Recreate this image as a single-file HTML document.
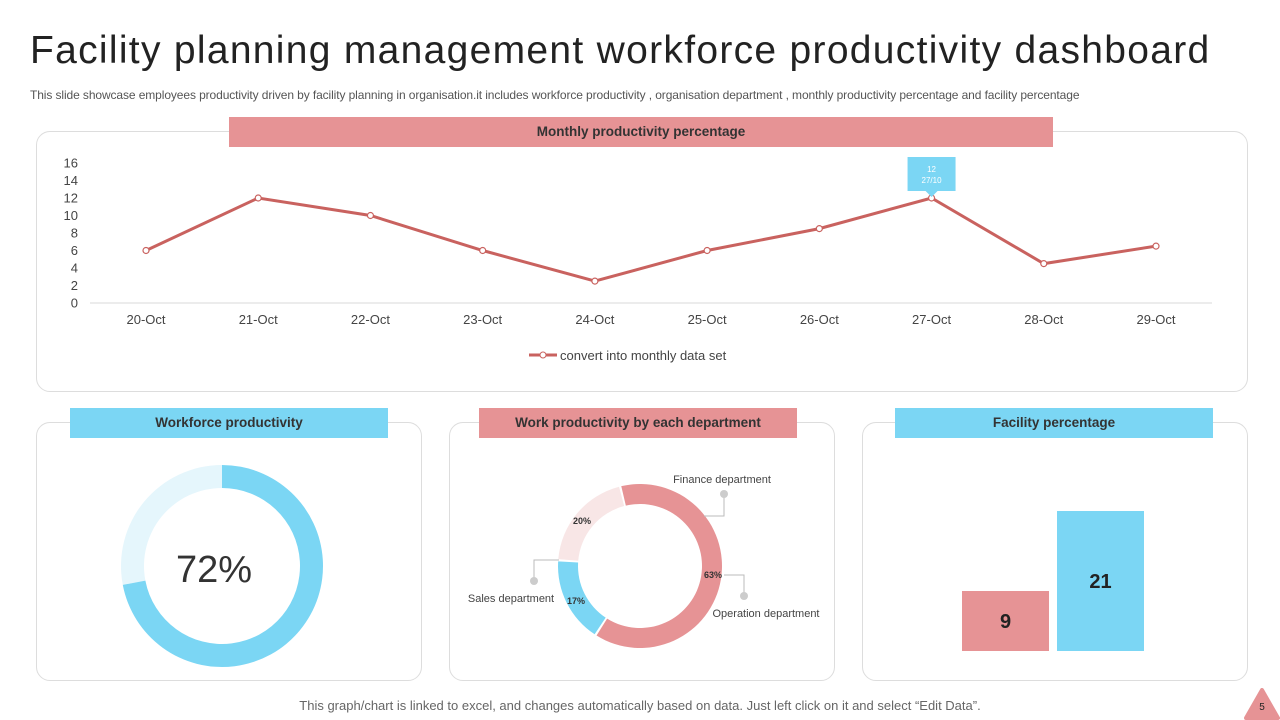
<!DOCTYPE html>
<html><head><meta charset="utf-8"><style>
body{margin:0;width:1280px;height:720px;background:#fff;font-family:"Liberation Sans",sans-serif;position:relative;overflow:hidden;color:#333}
.abs{position:absolute}
.card{position:absolute;border:1px solid #ddd;border-radius:14px;background:#fff}
.hdr{position:absolute;height:30px;line-height:30px;text-align:center;font-weight:bold;font-size:13.5px;color:#333}
.red{background:#e69395}.blue{background:#7bd6f4}
</style></head><body>
<div class="abs" style="left:30px;top:29px;font-size:39px;letter-spacing:1.3px;color:#222">Facility planning management workforce productivity dashboard</div>
<div class="abs" style="left:30px;top:88px;font-size:12px;letter-spacing:-0.1px;color:#555">This slide showcase employees productivity driven by facility planning in organisation.it includes workforce productivity , organisation department , monthly productivity percentage and facility percentage</div>

<div class="card" style="left:36px;top:131px;width:1210px;height:259px"></div>
<div class="hdr red" style="left:229px;top:117px;width:824px">Monthly productivity percentage</div>
<svg class="abs" id="line" style="left:0;top:0" width="1280" height="400"></svg>

<div class="card" style="left:36px;top:422px;width:384px;height:257px"></div>
<div class="hdr blue" style="left:70px;top:408px;width:318px">Workforce productivity</div>
<div class="card" style="left:449px;top:422px;width:384px;height:257px"></div>
<div class="hdr red" style="left:479px;top:408px;width:318px">Work productivity by each department</div>
<div class="card" style="left:862px;top:422px;width:384px;height:257px"></div>
<div class="hdr blue" style="left:895px;top:408px;width:318px">Facility percentage</div>
<svg class="abs" id="bottom" style="left:0;top:400px" width="1280" height="300"></svg>

<div class="abs" style="left:0;width:1280px;text-align:center;top:698px;font-size:13px;color:#666">This graph/chart is linked to excel, and changes automatically based on data. Just left click on it and select “Edit Data”.</div>
<svg class="abs" style="left:1244px;top:688px" width="36" height="32"><path d="M18 2 L34 30 L2 30 Z" fill="#e69395" stroke="#e69395" stroke-width="4" stroke-linejoin="round"/><text x="18" y="22" text-anchor="middle" font-size="10" fill="#222" font-family="Liberation Sans">5</text></svg>

<script>
const categories=["20-Oct","21-Oct","22-Oct","23-Oct","24-Oct","25-Oct","26-Oct","27-Oct","28-Oct","29-Oct"];
const values=[6,12,10,6,2.5,6,8.5,12,4.5,6.5];
const yTicks=[0,2,4,6,8,10,12,14,16];
const workforceValue=72;
const deptLabels=["Operation department","Sales department","Finance department"];
const deptValues=[63,17,20];
const facilityLabels=["A","B"];
const facilityValues=[9,21];
const NS="http://www.w3.org/2000/svg";
function mk(p,t,a,txt){const e=document.createElementNS(NS,t);for(const k in a)e.setAttribute(k,a[k]);if(txt!==undefined)e.textContent=txt;p.appendChild(e);return e;}
const L=document.getElementById('line');
const x=i=>146+i*(1156-146)/(categories.length-1);
const y=v=>303-v*(140/16);
mk(L,'line',{x1:90,x2:1212,y1:303,y2:303,stroke:'#d9d9d9'});
yTicks.forEach(t=>{const e=mk(L,'text',{x:78,y:y(t)+4.5,'text-anchor':'end','font-size':13,fill:'#444'},t);
});
categories.forEach((c,i)=>{const e=mk(L,'text',{x:x(i),y:324,'text-anchor':'middle','font-size':13,fill:'#444'},c);
});
const pl=mk(L,'polyline',{points:values.map((v,i)=>x(i)+','+y(v)).join(' '),fill:'none',stroke:'#c9625f','stroke-width':3});

values.forEach((v,i)=>{const e=mk(L,'circle',{cx:x(i),cy:y(v),r:3,fill:'#fff',stroke:'#c9625f','stroke-width':1.2});
});
const mi=7;const tx=x(mi),ty=y(values[mi]);
const tip=mk(L,'g',{});
mk(tip,'path',{d:`M${tx-24} ${ty-41} h48 v34 h-18 l-6 6 l-6 -6 h-18 z`,fill:'#7bd6f4'});
mk(tip,'text',{x:tx,y:ty-26,'text-anchor':'middle','font-size':8,fill:'#fff'},values[mi]);
mk(tip,'text',{x:tx,y:ty-15,'text-anchor':'middle','font-size':8,fill:'#fff'},categories[mi].replace('-Oct','/10'));
const lg=mk(L,'g',{});
mk(lg,'line',{x1:529,x2:557,y1:355,y2:355,stroke:'#c9625f','stroke-width':3});
mk(lg,'circle',{cx:543,cy:355,r:3,fill:'#fff',stroke:'#c9625f'});
mk(lg,'text',{x:560,y:360,'font-size':13,fill:'#444'},'convert into monthly data set');
const B=document.getElementById('bottom');
function arc(cx,cy,ro,ri,a0,a1){const r=a=>(a-90)*Math.PI/180;const p=(R,a)=>[cx+R*Math.cos(r(a)),cy+R*Math.sin(r(a))];
const lg=(a1-a0)>180?1:0;const A=p(ro,a0),Bp=p(ro,a1),C=p(ri,a1),D=p(ri,a0);
return `M${A} A${ro} ${ro} 0 ${lg} 1 ${Bp} L${C} A${ri} ${ri} 0 ${lg} 0 ${D} Z`;}
const wa=workforceValue/100*360;
let e=mk(B,'path',{d:arc(222,166,101,78,wa,359.99),fill:'#e5f6fc'});
e=mk(B,'path',{d:arc(222,166,101,78,0,wa),fill:'#7bd6f4'});
e=mk(B,'text',{x:214,y:182,'text-anchor':'middle','font-size':38,fill:'#333'},workforceValue+'%');
const dcols=['#e69395','#7bd6f4','#f8e6e6'];const tot=deptValues.reduce((a,b)=>a+b,0);
let a=-14;
deptValues.forEach((v,i)=>{const s=v/tot*360;e=mk(B,'path',{d:arc(640,166,82,62,a+0.8,a+s-0.8),fill:dcols[i]});
a+=s;});
const lp=[[713,178],[576,204],[582,124]];
deptValues.forEach((v,i)=>{e=mk(B,'text',{x:lp[i][0],y:lp[i][1],'text-anchor':'middle','font-size':9,'font-weight':'bold',fill:'#333'},v+'%');
});
mk(B,'polyline',{points:'724,175 744,175 744,196',fill:'none',stroke:'#bbb'});mk(B,'circle',{cx:744,cy:196,r:4,fill:'#ccc'});
mk(B,'polyline',{points:'559,160 534,160 534,181',fill:'none',stroke:'#bbb'});mk(B,'circle',{cx:534,cy:181,r:4,fill:'#ccc'});
mk(B,'polyline',{points:'704,116 724,116 724,94',fill:'none',stroke:'#bbb'});mk(B,'circle',{cx:724,cy:94,r:4,fill:'#ccc'});
[[deptLabels[0],766,217],[deptLabels[1],511,202],[deptLabels[2],722,83]].forEach(d=>{e=mk(B,'text',{x:d[1],y:d[2],'text-anchor':'middle','font-size':11,fill:'#444'},d[0]);
});
const by=v=>251-v*(140/21);const bx=[962,1057];const bc=['#e69395','#7bd6f4'];
facilityValues.forEach((v,i)=>{e=mk(B,'rect',{x:bx[i],y:by(v),width:87,height:251-by(v),fill:bc[i]});

e=mk(B,'text',{x:bx[i]+43.5,y:(by(v)+251)/2+7,'text-anchor':'middle','font-size':20,'font-weight':'bold',fill:'#222'},v);
});
</script>
</body></html>
